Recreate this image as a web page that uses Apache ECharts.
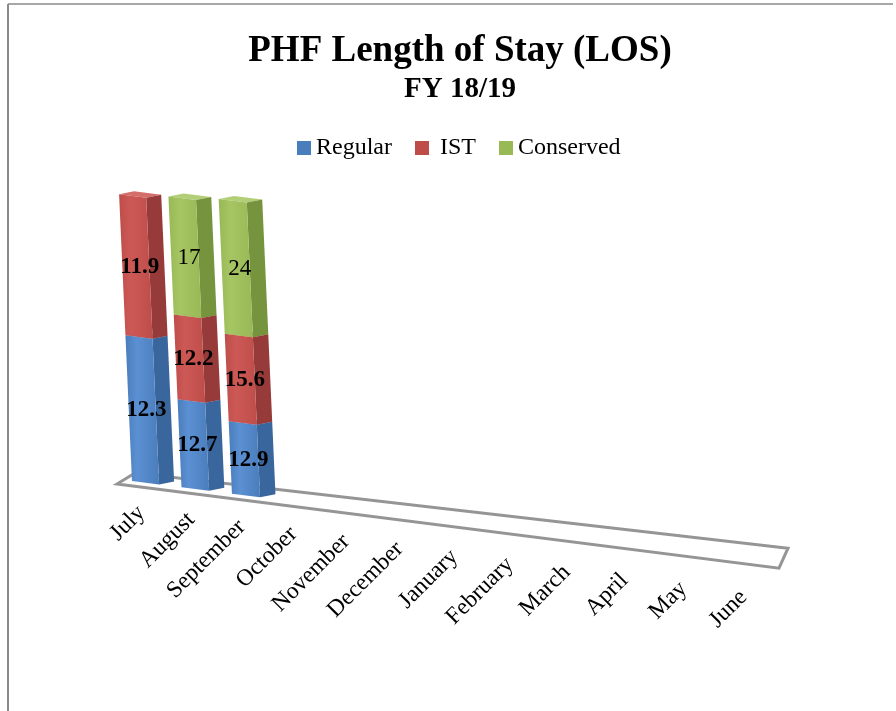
<!DOCTYPE html>
<html>
<head>
<meta charset="utf-8">
<script src="https://cdn.jsdelivr.net/npm/echarts@6/dist/echarts.min.js"></script>
<style>
html, body { margin: 0; padding: 0; background: #fff; }
#main { width: 896px; height: 711px; }
</style>
</head>
<body>
<div id="main"></div>
<script>
// data
var months = ['July', 'August', 'September', 'October', 'November', 'December',
    'January', 'February', 'March', 'April', 'May', 'June'];
var regular = [12.3, 12.7, 12.9, null, null, null, null, null, null, null, null, null];
var ist = [11.9, 12.2, 15.6, null, null, null, null, null, null, null, null, null];
var conserved = [null, 17, 24, null, null, null, null, null, null, null, null, null];
var seriesNames = ['Regular', 'IST', 'Conserved'];

var raw = [regular, ist, conserved];
var FONT = '"Liberation Serif", "DejaVu Serif", serif';

// face colours: front, front light, side, top
var faces = [
    ['#4A7DBB', '#5B90D3', '#3A669E', '#6C9BD6'],
    ['#BE4D4A', '#CD5956', '#963B39', '#D46E6B'],
    ['#98B955', '#A6C563', '#76933D', '#B2CF77']
];

// 100% stacked
var totals = months.map(function (m, i) {
    return raw.reduce(function (s, arr) { return s + (arr[i] || 0); }, 0);
});
function stackData(k) {
    var out = [];
    months.forEach(function (m, i) {
        var v = raw[k][i];
        if (v == null) return;
        var below = 0;
        for (var j = 0; j < k; j++) below += raw[j][i] || 0;
        out.push([i, below / totals[i] * 100, (below + v) / totals[i] * 100, v]);
    });
    return out;
}

// fake perspective
var PB = 0.12;           // right side closer to viewer
var BASE_X = 148, BASE_Y = 483, SLOPE = 0.127;
var LEAN = 0.045, GROW = 0.00028;
function tOf(x, cs) { return (x - cs.x) / cs.width; }
function persp(x, cs) {
    var t = tOf(x, cs);
    return cs.x + cs.width * t / (1 + PB - PB * t);
}
function perspD(x, cs) {
    var t = tOf(x, cs);
    return (1 + PB) / Math.pow(1 + PB - PB * t, 2);
}
function baseY(x) { return BASE_Y + SLOPE * (x - BASE_X); }
function grow(x) { return 1 + GROW * (x - BASE_X); }

function renderBar(k) {
    return function (params, api) {
        var cs = params.coordSys;
        var i = api.value(0);
        var p0 = api.coord([i, api.value(1)]);
        var p1 = api.coord([i, api.value(2)]);
        var xc = persp(p0[0], cs);
        var g = grow(xc);
        var w = api.size([1, 0])[0] * perspD(p0[0], cs) * 0.55;
        var xl = xc - w / 2 + 2;
        var bottom = cs.y + cs.height;
        var h0 = (bottom - p0[1]) * g, h1 = (bottom - p1[1]) * g;
        var dx = 15 * g, dy = -3;
        function P(u, h) { return [xl + u - LEAN * h, baseY(xl + u) - h]; }
        function B(p) { return [p[0] + dx, p[1] + dy]; }
        var fl0 = P(0, h0), fr0 = P(w, h0), fr1 = P(w, h1), fl1 = P(0, h1);
        var c = faces[k];
        var mid = P(w / 2 + 4, (h0 + h1) / 2);
        return {
            type: 'group',
            children: [{
                type: 'polygon',
                shape: { points: [fl1, fr1, B(fr1), B(fl1)] },
                style: { fill: c[3] }
            }, {
                type: 'polygon',
                shape: { points: [fr0, B(fr0), B(fr1), fr1] },
                style: { fill: c[2] }
            }, {
                type: 'polygon',
                shape: { points: [fl0, fr0, fr1, fl1] },
                style: {
                    fill: new echarts.graphic.LinearGradient(0, 0, 1, 0, [
                        { offset: 0, color: c[0] },
                        { offset: 0.35, color: c[1] },
                        { offset: 1, color: c[0] }
                    ])
                }
            }, {
                type: 'text',
                x: mid[0], y: mid[1],
                style: {
                    text: String(api.value(3)),
                    fill: '#000',
                    fontFamily: FONT,
                    fontSize: 23,
                    fontWeight: k < 2 ? 'bold' : 'normal',
                    align: 'center', verticalAlign: 'middle',
                    textAlign: 'center', textVerticalAlign: 'middle'
                }
            }]
        };
    };
}

function renderFloor(params, api) {
    var cs = params.coordSys;
    var xl = cs.x - 2, xr = cs.x + cs.width + 3;
    var fl = [xl, baseY(xl) + 5], fr = [xr, baseY(xr) + 5];
    var bl = [fl[0] + 18, fl[1] - 11], br = [fr[0] + 9, fr[1] - 20];
    return {
        type: 'polygon',
        shape: { points: [fl, fr, br, bl] },
        style: { fill: '#fff', stroke: '#959595', lineWidth: 3 }
    };
}

function renderMonth(params, api) {
    var cs = params.coordSys;
    var i = api.value(0);
    var p = api.coord([i, 0]);
    var x = persp(p[0], cs);
    return {
        type: 'text',
        x: x - 2,
        y: baseY(x) + 27 + 0.013 * (x - 145),
        rotation: Math.PI / 4,
        style: {
            text: months[i],
            fill: '#000',
            fontFamily: FONT,
            fontSize: 23.5,
            align: 'right', verticalAlign: 'middle',
            textAlign: 'right', textVerticalAlign: 'middle'
        }
    };
}

var chart = echarts.init(document.getElementById('main'));

var series = [{
    name: 'floor',
    type: 'custom',
    renderItem: renderFloor,
    data: [[0, 0]],
    silent: true,
    z: 1
}, {
    name: 'months',
    type: 'custom',
    renderItem: renderMonth,
    data: months.map(function (m, i) { return [i, 0]; }),
    silent: true,
    z: 1
}];
seriesNames.forEach(function (name, k) {
    series.push({
        name: name,
        type: 'custom',
        renderItem: renderBar(k),
        itemStyle: { color: faces[k][0] },
        encode: { x: 0, y: [1, 2] },
        data: stackData(k),
        z: 2 + k
    });
});

var option = {
    backgroundColor: '#fff',
    animation: false,
    title: [{
        text: 'PHF Length of Stay (LOS)',
        left: 455, top: 28, textAlign: 'center',
        textStyle: { fontFamily: FONT, fontSize: 37, fontWeight: 'bold', color: '#000' }
    }, {
        text: 'FY 18/19',
        left: 455, top: 70, textAlign: 'center',
        textStyle: { fontFamily: FONT, fontSize: 29, fontWeight: 'bold', color: '#000' }
    }],
    legend: {
        data: seriesNames,
        left: 292, top: 131,
        icon: 'rect',
        itemWidth: 14, itemHeight: 14,
        itemGap: 23,
        formatter: function (name) { return name === 'IST' ? ' IST' : name; },
        textStyle: { fontFamily: FONT, fontSize: 24, color: '#000' }
    },
    grid: { left: 119, width: 657, top: 196, height: 287 },
    xAxis: { type: 'category', data: months, show: false },
    yAxis: { type: 'value', min: 0, max: 100, show: false },
    graphic: [{
        type: 'line',
        shape: { x1: 8, y1: 4, x2: 893, y2: 4 },
        style: { stroke: '#8a8a8a', lineWidth: 1.5 }
    }, {
        type: 'line',
        shape: { x1: 8, y1: 4, x2: 8, y2: 711 },
        style: { stroke: '#8a8a8a', lineWidth: 2 }
    }],
    series: series
};
chart.setOption(option);
</script>
</body>
</html>
